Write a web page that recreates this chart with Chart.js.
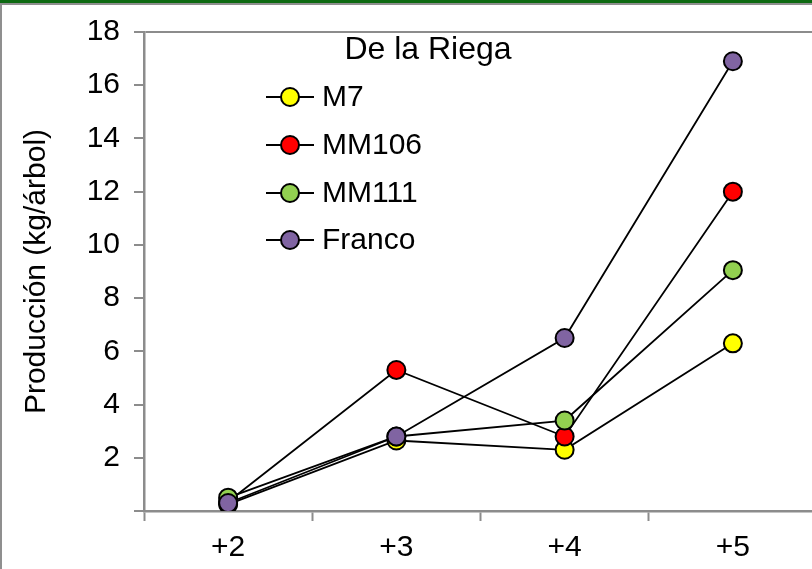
<!DOCTYPE html>
<html>
<head>
<meta charset="utf-8">
<script src="https://cdn.jsdelivr.net/npm/chart.js@4"></script>
<style>
  html, body { margin: 0; padding: 0; background: #fff; overflow: hidden; }
  #wrap { position: relative; width: 812px; height: 569px; overflow: hidden; background: #fff; }
  #chart { position: absolute; left: 0; top: 0; }
  .bar-top { position: absolute; left: 0; top: 0; width: 812px; height: 3px; background: #0d6a12; }
  .line-top { position: absolute; left: 0; top: 3px; width: 812px; height: 2px; background: #8f8f8f; }
  .line-left { position: absolute; left: 0; top: 3px; width: 2px; height: 566px; background: #8f8f8f; }
</style>
</head>
<body>
<div id="wrap">
  <canvas id="chart" width="828" height="569" style="width:828px;height:569px"></canvas>
  <div class="bar-top"></div>
  <div class="line-top"></div>
  <div class="line-left"></div>
</div>
<script>
// Years after planting
const categories = ['+2', '+3', '+4', '+5'];

// Yield per tree (kg/árbol) by rootstock
const m7     = [0.25, 2.65, 2.3, 6.3];
const mm106  = [0.35, 5.3, 2.8, 12.0];
const mm111  = [0.5, 2.8, 3.4, 9.05];
const franco = [0.3, 2.8, 6.5, 16.9];

const seriesNames  = ['M7', 'MM106', 'MM111', 'Franco'];
const seriesColors = ['#ffff00', '#ff0000', '#92d050', '#8064a2'];

const legendTitle = 'De la Riega';
const yAxisTitle = 'Producción (kg/árbol)';
const yMin = 0, yMax = 18, yStep = 2;

const FONT = '"Liberation Sans", Arial, sans-serif';
const AXIS_GRAY = '#8c8c8c';

const seriesData = [m7, mm106, mm111, franco];
const datasets = seriesData.map((d, i) => ({
  label: seriesNames[i],
  data: d,
  borderColor: '#000',
  borderWidth: 1.8,
  backgroundColor: seriesColors[i],
  pointBackgroundColor: seriesColors[i],
  pointBorderColor: '#000',
  pointBorderWidth: 2,
  pointRadius: 9,
  pointHoverRadius: 9,
  tension: 0,
  // later series sit on top
  order: seriesData.length - 1 - i
}));

// Legend with a line through each marker, plus a heading
const lineLegend = {
  id: 'lineLegend',
  afterDatasetsDraw(chart) {
    const ctx = chart.ctx;
    ctx.save();
    ctx.fillStyle = '#000';
    ctx.textBaseline = 'middle';
    ctx.font = '32px ' + FONT;
    ctx.textAlign = 'center';
    ctx.fillText(legendTitle, 428, 50);

    ctx.font = '30px ' + FONT;
    ctx.textAlign = 'left';
    const rowY = [97, 145, 193, 240];
    chart.data.datasets.forEach((ds, i) => {
      const y = rowY[i];
      ctx.strokeStyle = '#000';
      ctx.lineWidth = 2;
      ctx.beginPath();
      ctx.moveTo(266, y);
      ctx.lineTo(314, y);
      ctx.stroke();
      ctx.beginPath();
      ctx.arc(290, y, 9, 0, Math.PI * 2);
      ctx.fillStyle = ds.pointBackgroundColor;
      ctx.fill();
      ctx.stroke();
      ctx.fillStyle = '#000';
      ctx.fillText(ds.label, 322, y + 1);
    });
    ctx.restore();
  }
};

new Chart(document.getElementById('chart'), {
  type: 'line',
  data: { labels: categories, datasets },
  options: {
    responsive: false,
    animation: false,
    events: [],
    layout: { padding: { top: 32, right: 4, left: 0, bottom: 0 } },
    plugins: { legend: { display: false }, tooltip: { enabled: false } },
    scales: {
      x: {
        type: 'category',
        offset: true,
        grid: {
          offset: true,
          drawOnChartArea: false,
          tickLength: 10,
          tickColor: AXIS_GRAY,
          tickWidth: 2
        },
        border: { color: AXIS_GRAY, width: 2.5 },
        ticks: { color: '#000', font: { family: FONT, size: 30 }, padding: 9, maxRotation: 0 },
        afterFit(scale) { scale.height = 58; }
      },
      y: {
        min: yMin,
        max: yMax,
        grid: {
          drawOnChartArea: true,
          color: c => (c.tick && c.tick.value === yMax) ? AXIS_GRAY : 'rgba(0,0,0,0)',
          lineWidth: 2,
          tickLength: 10,
          tickColor: AXIS_GRAY,
          tickWidth: 2
        },
        border: { color: AXIS_GRAY, width: 2.5 },
        ticks: {
          stepSize: yStep,
          color: '#000',
          font: { family: FONT, size: 30 },
          padding: 14,
          callback: v => (v === 0 ? '' : v)
        },
        title: {
          display: true,
          text: yAxisTitle,
          color: '#000',
          font: { family: FONT, size: 30 },
          padding: { top: 19, bottom: 0 }
        },
        afterFit(scale) { scale.width = 144; }
      }
    }
  },
  plugins: [lineLegend]
});
</script>
</body>
</html>
